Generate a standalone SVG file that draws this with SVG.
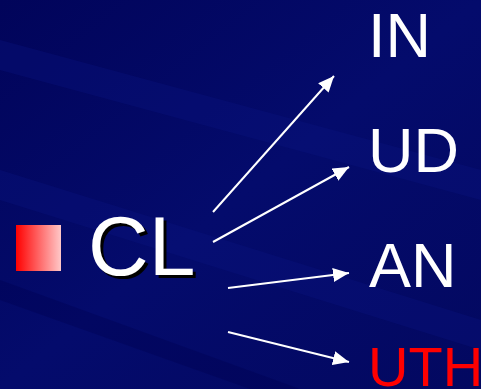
<svg xmlns="http://www.w3.org/2000/svg" width="481" height="389" viewBox="0 0 481 389">
<defs>
<linearGradient id="bg" x1="0" y1="0" x2="1" y2="1">
<stop offset="0" stop-color="#01045a"/>
<stop offset="0.5" stop-color="#040b6c"/>
<stop offset="1" stop-color="#030860"/>
</linearGradient>
<linearGradient id="sq" x1="0" y1="0" x2="1" y2="0">
<stop offset="0" stop-color="#ff0000"/>
<stop offset="1" stop-color="#ffc8c8"/>
</linearGradient>
<marker id="ah" markerUnits="userSpaceOnUse" markerWidth="18" markerHeight="14" refX="16" refY="7" orient="auto">
<path d="M0,0 L16,7 L0,14 Z" fill="#ffffff"/>
</marker>
<style>
.t{font-family:"Liberation Sans",Arial,sans-serif;fill:#ffffff}
.c{stroke:#ffffff;stroke-width:2;fill:none;marker-end:url(#ah)}
</style>
</defs>
<rect width="481" height="389" fill="url(#bg)"/>
<g opacity="0.35">
<path d="M0,40 L481,170 L481,200 L0,70 Z" fill="#0a1480"/>
<path d="M0,170 L481,320 L481,350 L0,200 Z" fill="#0a1480"/>
<path d="M0,280 L300,389 L250,389 L0,300 Z" fill="#000050"/>
</g>
<g id="bullet"><rect x="16" y="225" width="45" height="46" fill="url(#sq)"/></g>
<g id="CL">
<text x="91" y="278" class="t" font-size="84" style="fill:#000000">CL</text>
<text x="88" y="275" class="t" font-size="84">CL</text>
</g>
<g id="IN"><text x="368" y="57" class="t" font-size="63">IN</text></g>
<g id="UD"><text x="368" y="172" class="t" font-size="63">UD</text></g>
<g id="AN"><text x="369" y="287" class="t" font-size="63">AN</text></g>
<g id="UTH"><text x="368" y="386" class="t" font-size="56" style="fill:#ff0000">UTH</text></g>
<g id="connectors">
<line x1="213" y1="212" x2="334" y2="76" class="c"/>
<line x1="213" y1="242" x2="349" y2="167" class="c"/>
<line x1="228" y1="288" x2="349" y2="273" class="c"/>
<line x1="228" y1="332" x2="349" y2="362" class="c"/>
</g>
</svg>
